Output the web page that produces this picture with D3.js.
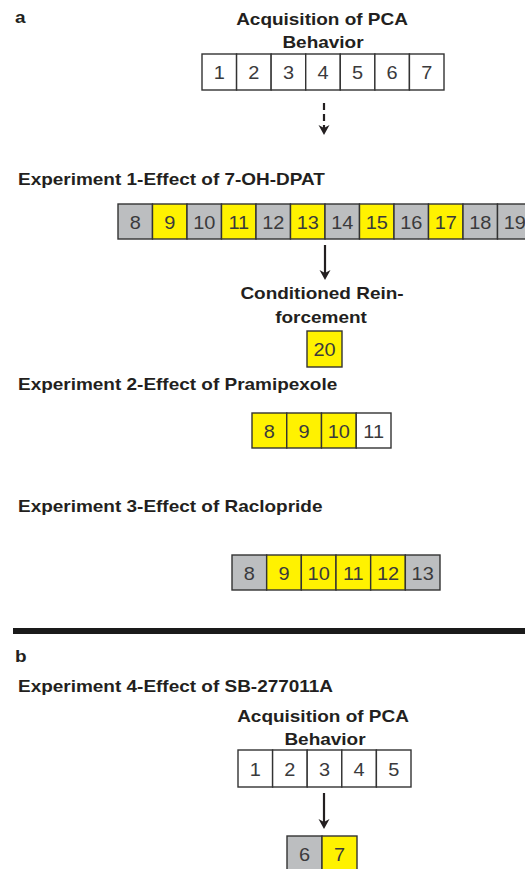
<!DOCTYPE html>
<html>
<head>
<meta charset="utf-8">
<script src="https://cdn.jsdelivr.net/npm/d3@7"></script>
<style>
  html, body { margin: 0; padding: 0; background: #fff; }
  svg { display: block; }
</style>
</head>
<body>
<svg id="chart" width="525" height="869"></svg>
<script>
// sessions and their treatment for each row of the design
const acqSessionsA = [1, 2, 3, 4, 5, 6, 7];
const acqPhaseA = ["none", "none", "none", "none", "none", "none", "none"];
const exp1Sessions = [8, 9, 10, 11, 12, 13, 14, 15, 16, 17, 18, 19];
const exp1Phase = ["veh", "drug", "veh", "drug", "veh", "drug", "veh", "drug", "veh", "drug", "veh", "veh"];
const crSessions = [20];
const crPhase = ["drug"];
const exp2Sessions = [8, 9, 10, 11];
const exp2Phase = ["drug", "drug", "drug", "none"];
const exp3Sessions = [8, 9, 10, 11, 12, 13];
const exp3Phase = ["veh", "drug", "drug", "drug", "drug", "veh"];
const acqSessionsB = [1, 2, 3, 4, 5];
const acqPhaseB = ["none", "none", "none", "none", "none"];
const exp4Sessions = [6, 7];
const exp4Phase = ["veh", "drug"];

const svg = d3.select("#chart");
const ink = "#231f20";
const fill = d3.scaleOrdinal()
  .domain(["none", "veh", "drug"])
  .range(["#ffffff", "#bcbec0", "#fff200"]);

// stretched bold text, like the source figure
function label(txt, x, y, anchor, size, weight, sx) {
  svg.append("g")
    .attr("transform", `translate(${x},${y}) scale(${sx || 1.15},1)`)
    .append("text")
    .attr("text-anchor", anchor)
    .attr("font-family", "'Liberation Sans', Arial, sans-serif")
    .attr("font-size", size || 16.5)
    .attr("font-weight", weight || "bold")
    .attr("fill", ink)
    .text(txt);
}

function row(sessions, phases, x0, x1, y0, y1) {
  const x = d3.scaleBand().domain(sessions).range([x0, x1]).paddingInner(0);
  const data = sessions.map((s, i) => ({ s: s, p: phases[i] }));
  const g = svg.append("g");
  const cell = g.selectAll("g").data(data).enter().append("g");
  cell.append("rect")
    .attr("x", d => x(d.s))
    .attr("y", y0)
    .attr("width", x.bandwidth())
    .attr("height", y1 - y0)
    .attr("fill", d => fill(d.p))
    .attr("stroke", "#333")
    .attr("stroke-width", 1.4);
  cell.each(function (d) {
    const c = x(d.s) + x.bandwidth() / 2;
    d3.select(this).append("g")
      .attr("transform", `translate(${c},${(y0 + y1) / 2 + 7}) scale(1.05,1)`)
      .append("text")
      .attr("text-anchor", "middle")
      .attr("font-family", "'Liberation Sans', Arial, sans-serif")
      .attr("font-size", 19)
      .attr("fill", "#3a3a3c")
      .text(d.s);
  });
}

function arrow(x, y0, y1, dashed) {
  svg.append("line")
    .attr("x1", x).attr("x2", x)
    .attr("y1", y0).attr("y2", y1 - 6)
    .attr("stroke", ink)
    .attr("stroke-width", 2.2)
    .attr("stroke-dasharray", dashed ? "7,4" : null);
  svg.append("path")
    .attr("d", d3.line()([[x, y1], [x - 5.5, y1 - 10], [x, y1 - 7], [x + 5.5, y1 - 10]]) + "Z")
    .attr("fill", ink);
}

// panel a
label("a", 15, 23, "start");
label("Acquisition of PCA", 322, 25, "middle");
label("Behavior", 323, 48, "middle");
row(acqSessionsA, acqPhaseA, 202, 444, 54, 90);
arrow(324, 103, 135, true);

label("Experiment 1-Effect of 7-OH-DPAT", 18, 185, "start");
row(exp1Sessions, exp1Phase, 118, 532, 204, 239);
arrow(325, 245, 280, false);

label("Conditioned Rein-", 322, 299, "middle");
label("forcement", 321, 323, "middle");
row(crSessions, crPhase, 307, 342, 331, 367);

label("Experiment 2-Effect of Pramipexole", 18, 390, "start");
row(exp2Sessions, exp2Phase, 252, 391, 413, 448);

label("Experiment 3-Effect of Raclopride", 18, 512, "start");
row(exp3Sessions, exp3Phase, 232, 440, 555, 590);

svg.append("line")
  .attr("x1", 13).attr("x2", 525)
  .attr("y1", 631).attr("y2", 631)
  .attr("stroke", "#1a1a1a")
  .attr("stroke-width", 6);

// panel b
label("b", 15, 662, "start");
label("Experiment 4-Effect of SB-277011A", 18, 692, "start");
label("Acquisition of PCA", 323, 722, "middle");
label("Behavior", 325, 745, "middle");
row(acqSessionsB, acqPhaseB, 238, 411, 750, 787);
arrow(324, 793, 829, false);
row(exp4Sessions, exp4Phase, 287, 357, 836, 872);
</script>
</body>
</html>
